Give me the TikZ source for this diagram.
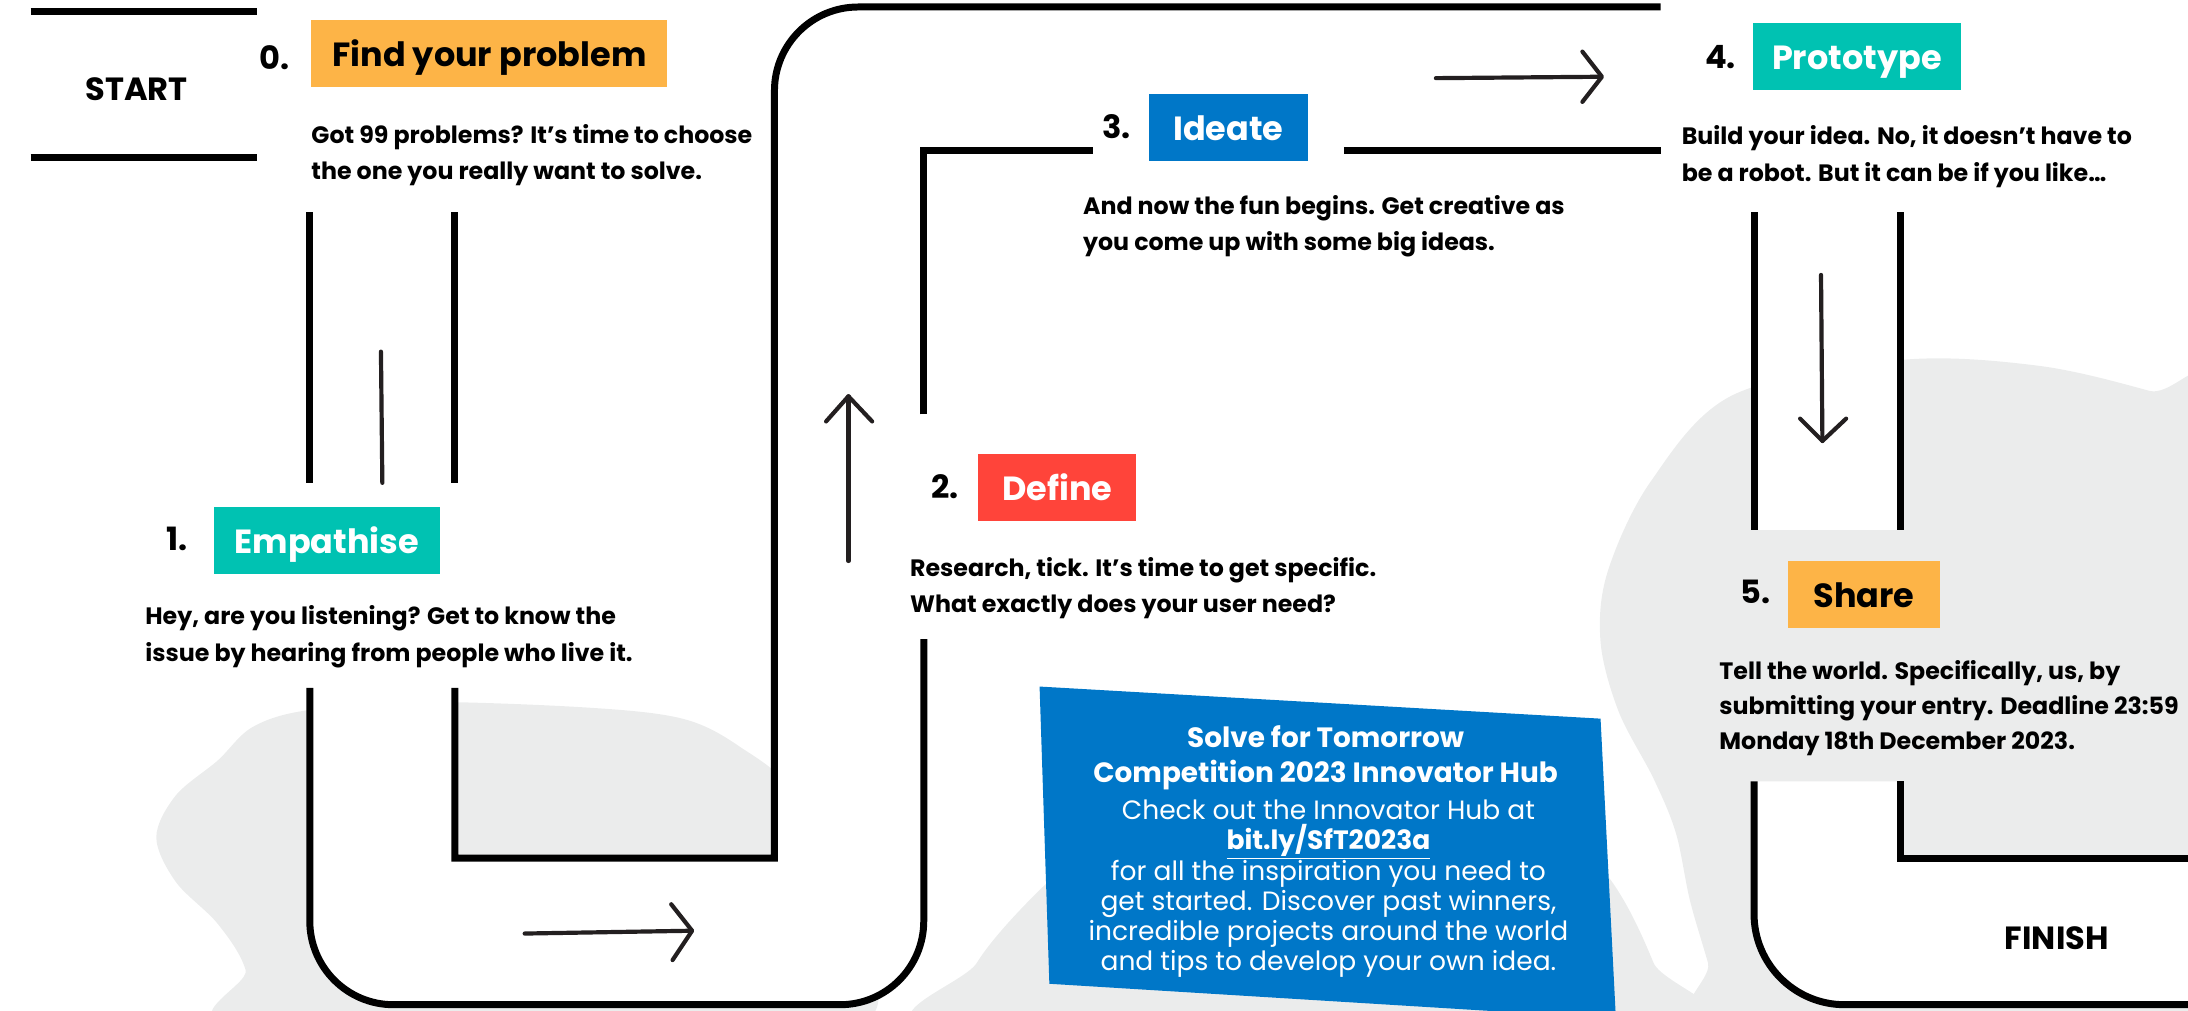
\documentclass[tikz,border=0pt]{standalone}
\usepackage{fontspec}
\setmainfont{Poppins}
\definecolor{sorange}{HTML}{FDB447}
\definecolor{steal}{HTML}{00C2B2}
\definecolor{sred}{HTML}{FF443A}
\definecolor{sblue}{HTML}{0077C8}
\definecolor{sgrey}{HTML}{EBECEC}
\definecolor{ink}{HTML}{231F20}
\begin{document}
\begin{tikzpicture}[x=1pt,y=-1pt,
  road/.style={line width=5pt, draw=black},
  arr/.style={line width=3pt, line cap=round, line join=round, draw=ink},
  stepbox/.style={minimum height=48pt, inner sep=0pt, anchor=north west, text height=19pt, text depth=0pt, font=\fontsize{24}{24}\selectfont\bfseries},
  num/.style={inner sep=0pt, font=\fontsize{23}{23}\selectfont\bfseries},
  body/.style={inner sep=0pt, anchor=north west, align=left, font=\fontsize{17}{26}\selectfont\bfseries},
  endlabel/.style={inner sep=0pt, font=\fontsize{23}{23}\selectfont\bfseries}]
\useasboundingbox (0,0) rectangle (1568,724);
\clip (0,0) rectangle (1568,724);
% grey blobs
\fill[sgrey] plot[smooth cycle, tension=0.55] coordinates {(180,740) (176,695) (156,662) (126,632) (112,600) (126,570) (156,545) (181,521) (220,509) (300,503) (420,507) (489,515) (530,535) (570,570) (600,650) (600,740)};
\fill[sgrey] plot[smooth cycle, tension=0.55] coordinates {(684,740) (700,690) (750,633) (820,575) (950,545) (1080,560) (1150,625) (1185,690) (1198,740)};
\fill[sgrey] plot[smooth cycle, tension=0.55] coordinates {(1238,740) (1224,690) (1211,645) (1201,597) (1185,558) (1160,510) (1147,460) (1152,410) (1183,345) (1242,283) (1362,258) (1460,262) (1540,280) (1600,300) (1600,740)};
% white channels
\fill[white, even odd rule] (222,493) -- (222,660) arc[start angle=180, end angle=90, radius=60] -- (602,720) arc[start angle=90, end angle=0, radius=60] -- (662,458) -- (555,458) -- (555,615) -- (326,615) -- (326,493) -- cycle;
\fill[white] (1257,560) -- (1257,655) arc[start angle=180, end angle=90, radius=65] -- (1580,720) -- (1580,615) -- (1362,615) -- (1362,560) -- cycle;
\fill[white] (1257,152) rectangle (1362,380);
% blue info box
\fill[sblue] (745,492) -- (1147,515) -- (1158,730) -- (752,705) -- cycle;
% roads
\draw[road] (22,8) -- (184,8);
\draw[road] (22,113) -- (184,113);
\draw[road] (222,152) -- (222,346);
\draw[road] (326,152) -- (326,346);
\draw[line width=3pt, line cap=round, draw=ink] (273,252) -- (274,346);
\draw[road] (222,493) -- (222,660) arc[start angle=180, end angle=90, radius=60] -- (602,720) arc[start angle=90, end angle=0, radius=60] -- (662,458);
\draw[road] (326,493) -- (326,615) -- (555,615) -- (555,65) arc[start angle=180, end angle=270, radius=60] -- (1190,5);
\draw[road] (662,297) -- (662,108) -- (783,108);
\draw[road] (963,108) -- (1190,108);
\draw[road] (1257,152) -- (1257,380);
\draw[road] (1362,152) -- (1362,380);
\draw[road] (1257,560) -- (1257,655) arc[start angle=180, end angle=90, radius=65] -- (1580,720);
\draw[road] (1362,560) -- (1362,615) -- (1580,615);
% arrows
\draw[arr] (376,669) -- (495,667);
\draw[arr] (481,648) -- (496,667) -- (482,688);
\draw[arr] (608,402) -- (608,284);
\draw[arr] (592,302) -- (608,284) -- (625,302);
\draw[arr] (1029,56) -- (1147,55);
\draw[arr] (1134,37) -- (1148,55) -- (1134,73);
\draw[arr] (1305,197) -- (1306,316);
\draw[arr] (1290,300) -- (1306,316) -- (1323,300);
% labels
\node[endlabel] (start) at (98,64) {START};
\node[endlabel] (finish) at (1474,672) {FINISH};
% step 0
\node[num] (n0) at (197,41) {0.};
\node[stepbox, fill=sorange, minimum width=255pt, text=black] (b0) at (223,14) {Find your problem};
\node[body] (t0) at (223,89) {Got 99 problems? It’s time to choose\\the one you really want to solve.};
% step 1
\node[num] (n1) at (127,386) {1.};
\node[stepbox, fill=steal, minimum width=162pt, text=white] (b1) at (153,363) {Empathise};
\node[body] (t1) at (104,434) {Hey, are you listening? Get to know the\\issue by hearing from people who live it.};
% step 2
\node[num] (n2) at (677,349) {2.};
\node[stepbox, fill=sred, minimum width=113pt, text=white] (b2) at (701,325) {Define};
\node[body] (t2) at (652,399) {Research, tick. It’s time to get specific.\\What exactly does your user need?};
% step 3
\node[num] (n3) at (800,91) {3.};
\node[stepbox, fill=sblue, minimum width=114pt, text=white] (b3) at (823,67) {Ideate};
\node[body] (t3) at (776,140) {And now the fun begins. Get creative as\\you come up with some big ideas.};
% step 4
\node[num] (n4) at (1233,41) {4.};
\node[stepbox, fill=steal, minimum width=149pt, text=white] (b4) at (1256,16) {Prototype};
\node[body] (t4) at (1205,90) {Build your idea. No, it doesn’t have to\\be a robot. But it can be if you like…};
% step 5
\node[num] (n5) at (1258,424) {5.};
\node[stepbox, fill=sorange, minimum width=109pt, text=black] (b5) at (1281,402) {Share};
\node[body, font=\fontsize{17}{25}\selectfont\bfseries] (t5) at (1232,473) {Tell the world. Specifically, us, by\\submitting your entry. Deadline 23:59\\Monday 18th December 2023.};
% hub text
\node[inner sep=0pt, anchor=north, align=center, text=white, font=\fontsize{20}{25}\selectfont\bfseries] (hubtitle) at (950,520) {Solve for Tomorrow\\Competition 2023 Innovator Hub};
\node[inner sep=0pt, anchor=north, align=center, text=white, font=\fontsize{19}{21.4}\selectfont] (hubbody) at (952,573) {Check out the Innovator Hub at\\{\bfseries\underline{bit.ly/SfT2023a}}\\for all the inspiration you need to\\get started. Discover past winners,\\incredible projects around the world\\and tips to develop your own idea.};
\end{tikzpicture}
\end{document}
